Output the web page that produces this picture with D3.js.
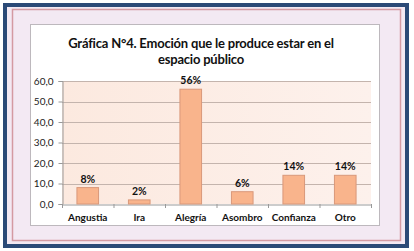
<!DOCTYPE html>
<html>
<head>
<meta charset="utf-8">
<script src="https://cdn.jsdelivr.net/npm/d3@7"></script>
<style>
  html, body { margin: 0; padding: 0; background: #fff; }
  svg { display: block; font-family: Lato, "Open Sans", sans-serif; }
</style>
</head>
<body>
<script>
    const categories = ['Angustia', 'Ira', 'Alegría', 'Asombro', 'Confianza', 'Otro']
    const values = [8, 2, 56, 6, 14, 14]
    const labels = ['8%', '2%', '56%', '6%', '14%', '14%']
    const yTicks = [0, 10, 20, 30, 40, 50, 60]
    const titleLines = ['Gráfica N°4. Emoción que le produce estar en el', 'espacio público']

    const width = 414
    const height = 251
    const plot = {"left": 62, "right": 371, "top": 81, "bottom": 204}

    const svg = d3.select("body")
        .append("svg")
        .attr("width", width)
        .attr("height", height)

    // Frames
    svg.append('rect')
        .attr('x', 5).attr('y', 5).attr('width', 402).attr('height', 241)
        .attr('fill', '#f3e9f3')
        .attr('stroke', '#2b4a77').attr('stroke-width', 4)

    svg.append('rect')
        .attr('x', 12.5).attr('y', 9.5).attr('width', 388).attr('height', 231)
        .attr('fill', 'none')
        .attr('stroke', '#d49aa2').attr('stroke-width', 1.5)

    svg.append('rect')
        .attr('x', 30.5).attr('y', 24.5).attr('width', 349).attr('height', 201)
        .attr('fill', '#ffffff')
        .attr('stroke', '#bdb8bd').attr('stroke-width', 1)

    // Title
    svg.append('text')
        .attr('x', 201).attr('y', 48)
        .attr('text-anchor', 'middle')
        .attr('font-size', 13).attr('font-weight', 'bold').attr('fill', '#111')
        .attr('letter-spacing', -0.2)
        .selectAll('tspan')
        .data(titleLines)
        .enter()
        .append('tspan')
            .attr('x', 201)
            .attr('dy', (d, i) => i ? 16 : 0)
            .text(d => d)

    // Scales
    const xScale = d3.scaleBand()
        .domain(categories)
        .range([plot.left, plot.right])
        .paddingInner(0.58)
        .paddingOuter(0.29)

    const yScale = d3.scaleLinear()
        .domain([0, 60])
        .range([plot.bottom, plot.top])

    // Plot background
    const grad = svg.append('defs').append('linearGradient')
        .attr('id', 'bg').attr('x1', 0).attr('x2', 1).attr('y1', 0).attr('y2', 0)
    grad.append('stop').attr('offset', '0%').attr('stop-color', '#fce9df')
    grad.append('stop').attr('offset', '100%').attr('stop-color', '#fdf1ec')

    svg.append('rect')
        .attr('x', plot.left).attr('y', plot.top)
        .attr('width', plot.right - plot.left).attr('height', plot.bottom - plot.top)
        .attr('fill', 'url(#bg)')

    // Gridlines
    svg.append('g')
        .selectAll('line')
        .data(yTicks.filter(d => d > 0))
        .enter()
        .append('line')
            .attr('x1', plot.left).attr('x2', plot.right)
            .attr('y1', d => Math.round(yScale(d)) + 0.5)
            .attr('y2', d => Math.round(yScale(d)) + 0.5)
            .attr('stroke', '#c4b4ad')

    // Y axis
    const yAxis = svg.append('g')
        .attr('transform', `translate(${plot.left + 0.5}, 0)`)
        .call(d3.axisLeft(yScale).tickValues(yTicks).tickSize(4).tickFormat(d3.format('.1f')))
    yAxis.selectAll('text')
        .text(d => d3.format('.1f')(d).replace('.', ','))
        .attr('font-size', 10).attr('fill', '#222').attr('font-family', 'Lato, sans-serif')
        .attr('x', -9)
    yAxis.selectAll('line, path').attr('stroke', '#999')

    // X axis
    const xAxis = svg.append('g')
        .attr('transform', `translate(0, ${plot.bottom + 0.5})`)
        .call(d3.axisBottom(xScale).tickSize(0).tickSizeOuter(0))
    xAxis.select('path').attr('stroke', '#999')
    xAxis.selectAll('text')
        .attr('font-size', 10).attr('font-weight', 'bold').attr('fill', '#111')
        .attr('font-family', 'Lato, sans-serif')
        .attr('dy', '1.35em')

    const step = xScale.step()
    svg.append('g')
        .selectAll('line')
        .data(d3.range(categories.length + 1))
        .enter()
        .append('line')
            .attr('x1', i => plot.left + i * step + 0.5)
            .attr('x2', i => plot.left + i * step + 0.5)
            .attr('y1', plot.bottom).attr('y2', plot.bottom + 4)
            .attr('stroke', '#999')

    // Bars
    svg.append('g')
        .selectAll('rect')
        .data(values)
        .enter()
        .append('rect')
            .attr('x', (d, i) => xScale(categories[i]))
            .attr('y', d => yScale(d))
            .attr('width', xScale.bandwidth())
            .attr('height', d => yScale(0) - yScale(d))
            .attr('fill', '#f9b48c')
            .attr('stroke', '#d9987a')
            .attr('stroke-width', 1)

    // Value labels
    svg.append('g')
        .selectAll('text')
        .data(values)
        .enter()
        .append('text')
            .attr('x', (d, i) => xScale(categories[i]) + xScale.bandwidth() / 2)
            .attr('y', d => yScale(d) - 5)
            .attr('text-anchor', 'middle')
            .attr('font-size', 10.5).attr('font-weight', 'bold').attr('fill', '#111')
            .text((d, i) => labels[i])
</script>
</body>
</html>
